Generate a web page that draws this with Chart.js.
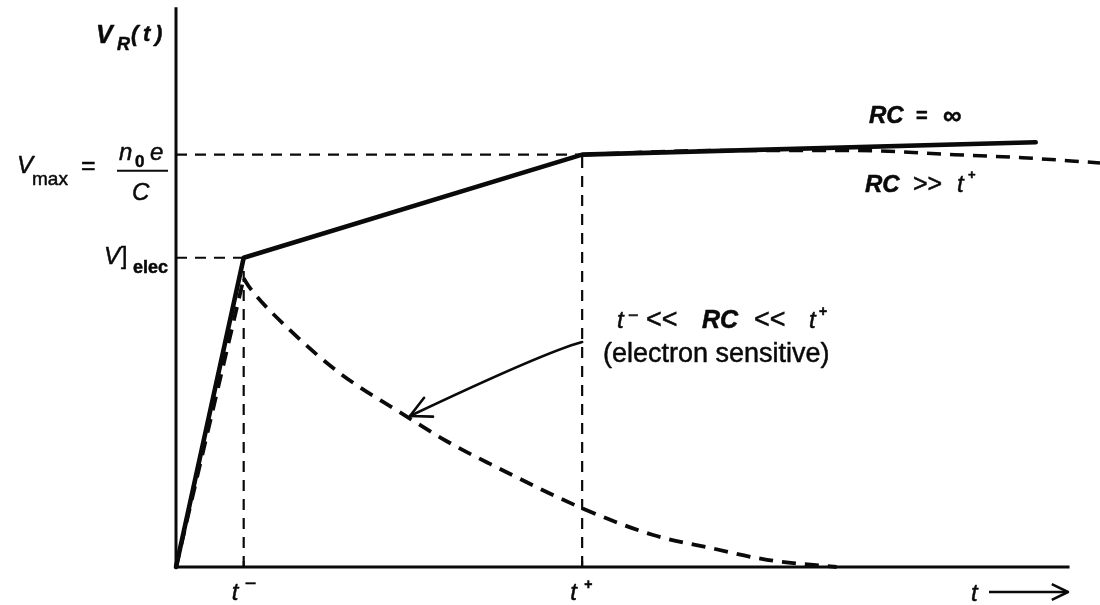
<!DOCTYPE html>
<html>
<head>
<meta charset="utf-8">
<script src="https://cdn.jsdelivr.net/npm/chart.js@4.4.1/dist/chart.umd.min.js"></script>
<style>
  html, body { margin: 0; padding: 0; background: #fff; }
  #wrap { width: 1100px; height: 605px; position: relative; }
</style>
</head>
<body>
<div id="wrap"><canvas id="pulse"></canvas></div>
<script>
// Characteristic times t⁻ (electron collection) and t⁺ (ion collection)
const timeMarks = [1, 6];
const timeMarkSigns = ['\u2212', '+'];
// Voltage levels V]elec and Vmax = n0 e / C
const levelValues = [3, 4];

// RC = ∞ : full integration of the induced charge
const rcInfTime = [0, 1, 6, 12.7];
const rcInfVolt = [0, 3, 4, 4.12];

// RC >> t⁺ : slow decay after full collection (rise coincides with RC = ∞)
const rcLongTime = [6, 8, 10, 11.5, 12.5, 13.65];
const rcLongVolt = [4, 4.04, 4.04, 4.0, 3.97, 3.92];

// t⁻ << RC << t⁺ : electron-sensitive pulse (straight rise, then decay)
const elecRiseTime = [0, 1.0];
const elecRiseVolt = [0, 2.8];
const elecDecayTime = [1.0, 1.1, 1.68, 2.42, 3.31, 4.0, 4.64, 6, 7.05, 7.93, 8.73, 9.76];
const elecDecayVolt = [2.8, 2.70, 2.30, 1.88, 1.50, 1.22, 1.00, 0.57, 0.31, 0.18, 0.07, 0.0];

// Extent of the drawn axes
const axisEndTime = 13.2;
const axisTopVolt = 5.43;

const INK = '#0a0a0a';
const pts = (xs, ys) => xs.map((x, i) => ({ x, y: ys[i] }));

const guideSets = [];
timeMarks.forEach((t, i) => {
  guideSets.push([{ x: t, y: 0 }, { x: t, y: levelValues[i] }]);
  guideSets.push([{ x: 0, y: levelValues[i] }, { x: t, y: levelValues[i] }]);
});

const dashed = { borderColor: INK, borderDash: [14, 9], pointRadius: 0, clip: false };

const datasets = [
  ...guideSets.map(d => ({
    data: d, borderColor: INK, borderWidth: 2.2, borderDash: [11, 8],
    pointRadius: 0, tension: 0, clip: false
  })),
  { ...dashed, label: 'RC >> t+', data: pts(rcLongTime, rcLongVolt), borderWidth: 3.5,
    cubicInterpolationMode: 'monotone' },
  { ...dashed, label: 'electron rise', data: pts(elecRiseTime, elecRiseVolt), borderWidth: 3.8,
    tension: 0 },
  { ...dashed, label: 'electron sensitive', data: pts(elecDecayTime, elecDecayVolt), borderWidth: 3.8,
    cubicInterpolationMode: 'monotone' },
  {
    label: 'RC = inf', data: pts(rcInfTime, rcInfVolt), borderColor: INK,
    borderWidth: 4.6, pointRadius: 0, tension: 0, clip: false,
    borderCapStyle: 'round', borderJoinStyle: 'round'
  }
];

function put(ctx, text, x, y, font, align) {
  ctx.font = font;
  ctx.textAlign = align || 'left';
  ctx.textBaseline = 'alphabetic';
  ctx.fillText(text, x, y);
  ctx.strokeText(text, x, y);
}

function arrowHead(ctx, tipX, tipY, backAngle, len, spread) {
  ctx.beginPath();
  ctx.moveTo(tipX + len * Math.cos(backAngle - spread), tipY + len * Math.sin(backAngle - spread));
  ctx.lineTo(tipX, tipY);
  ctx.lineTo(tipX + len * Math.cos(backAngle + spread), tipY + len * Math.sin(backAngle + spread));
  ctx.stroke();
}

const SANS = '"Liberation Sans", Arial, sans-serif';

const annotations = {
  id: 'annotations',
  beforeDatasetsDraw(chart) {
    const { ctx, scales: { x, y } } = chart;
    ctx.save();
    ctx.strokeStyle = INK;
    ctx.lineWidth = 3;
    ctx.beginPath();
    ctx.moveTo(x.getPixelForValue(0), y.getPixelForValue(axisTopVolt));
    ctx.lineTo(x.getPixelForValue(0), y.getPixelForValue(0));
    ctx.lineTo(x.getPixelForValue(axisEndTime), y.getPixelForValue(0));
    ctx.stroke();
    ctx.lineWidth = 2;
    timeMarks.forEach(t => {
      const px = x.getPixelForValue(t);
      ctx.beginPath();
      ctx.moveTo(px, y.getPixelForValue(0));
      ctx.lineTo(px, y.getPixelForValue(0) - 6);
      ctx.stroke();
    });
    ctx.restore();
  },
  afterDatasetsDraw(chart) {
    const { ctx, scales: { x, y } } = chart;
    ctx.save();
    ctx.fillStyle = INK;
    ctx.strokeStyle = INK;
    ctx.lineWidth = 0.5;
    ctx.lineJoin = 'round';

    // y-axis title V_R(t)
    put(ctx, 'V', 96, 43, `italic bold 25px ${SANS}`);
    put(ctx, 'R', 117, 50, `italic bold 18px ${SANS}`);
    put(ctx, '(', 131, 41, `italic bold 22px ${SANS}`);
    put(ctx, 't', 143, 41, `italic bold 22px ${SANS}`);
    put(ctx, ')', 155, 41, `italic bold 22px ${SANS}`);

    // Vmax = n0 e / C
    const yMax = y.getPixelForValue(levelValues[1]);
    put(ctx, 'V', 17, yMax + 18, `italic 24px ${SANS}`);
    put(ctx, 'max', 32, yMax + 30, `19px ${SANS}`);
    put(ctx, '=', 81, yMax + 19, `25px ${SANS}`);
    put(ctx, 'n', 119, yMax + 5, `italic 24px ${SANS}`);
    put(ctx, '0', 135, yMax + 12, `bold 17px ${SANS}`);
    put(ctx, 'e', 150, yMax + 5, `italic 24px ${SANS}`);
    ctx.save();
    ctx.lineWidth = 2;
    ctx.beginPath();
    ctx.moveTo(117, yMax + 16);
    ctx.lineTo(168, yMax + 16);
    ctx.stroke();
    ctx.restore();
    put(ctx, 'C', 132, yMax + 45, `italic 24px ${SANS}`);

    // V]elec
    const yEl = y.getPixelForValue(levelValues[0]);
    put(ctx, 'V', 104, yEl + 6, `italic 24px ${SANS}`);
    put(ctx, ']', 121, yEl + 6, `23px ${SANS}`);
    put(ctx, 'elec', 133, yEl + 15, `bold 18px ${SANS}`);

    // time marks under the axis
    const y0 = y.getPixelForValue(0);
    timeMarks.forEach((t, i) => {
      const px = x.getPixelForValue(t);
      put(ctx, 't', px - 12, y0 + 33, `italic 24px ${SANS}`);
      if (i === 0) put(ctx, timeMarkSigns[i], px + 1, y0 + 23, `20px ${SANS}`);
      else put(ctx, timeMarkSigns[i], px + 2, y0 + 22, `bold 14px ${SANS}`);
    });

    // t ⟶ label on the time axis
    put(ctx, 't', 971, y0 + 34, `italic 24px ${SANS}`);
    ctx.save();
    ctx.lineWidth = 2.5;
    ctx.beginPath();
    ctx.moveTo(989, y0 + 25);
    ctx.lineTo(1067, y0 + 25);
    ctx.stroke();
    arrowHead(ctx, 1068, y0 + 25, Math.PI, 18, 0.45);
    ctx.restore();

    // curve labels
    put(ctx, 'RC', 869, 123, `italic bold 24px ${SANS}`);
    put(ctx, '=', 916, 122, `bold 20px ${SANS}`);
    put(ctx, '\u221E', 943, 124, `bold 26px ${SANS}`);

    put(ctx, 'RC', 865, 192, `italic bold 24px ${SANS}`);
    put(ctx, '>>', 913, 192, `25px ${SANS}`);
    put(ctx, 't', 957, 192, `italic 24px ${SANS}`);
    put(ctx, '+', 968, 179, `bold 13px ${SANS}`);

    put(ctx, 't', 617, 328, `italic 24px ${SANS}`);
    put(ctx, '\u2212', 628, 321, `18px ${SANS}`);
    put(ctx, '<<', 646, 328, `27px ${SANS}`);
    put(ctx, 'RC', 702, 328, `italic bold 25px ${SANS}`);
    put(ctx, '<<', 754, 328, `27px ${SANS}`);
    put(ctx, 't', 809, 328, `italic 24px ${SANS}`);
    put(ctx, '+', 819, 316, `bold 14px ${SANS}`);
    put(ctx, '(electron sensitive)', 603, 362, `27px ${SANS}`);

    // curved pointer to the electron-sensitive pulse
    const tailX = x.getPixelForValue(timeMarks[1]), tailY = 342;
    const headX = 410, headY = 416;
    ctx.lineWidth = 2.6;
    ctx.lineCap = 'round';
    ctx.beginPath();
    ctx.moveTo(tailX, tailY);
    ctx.quadraticCurveTo(545, 352, headX, headY);
    ctx.stroke();
    const back = Math.atan2(352 - headY, 545 - headX);
    arrowHead(ctx, headX, headY, back, 23, 0.47);

    ctx.restore();
  }
};

new Chart(document.getElementById('pulse'), {
  type: 'line',
  data: { datasets },
  options: {
    responsive: true,
    maintainAspectRatio: false,
    animation: false,
    layout: { padding: { left: 176, right: 0, top: 0, bottom: 38 } },
    scales: {
      x: { type: 'linear', min: 0, max: 13.65, display: false },
      y: { type: 'linear', min: 0, max: 5.5, display: false }
    },
    plugins: { legend: { display: false }, tooltip: { enabled: false } },
    elements: { point: { radius: 0 } }
  },
  plugins: [annotations]
});
</script>
</body>
</html>
